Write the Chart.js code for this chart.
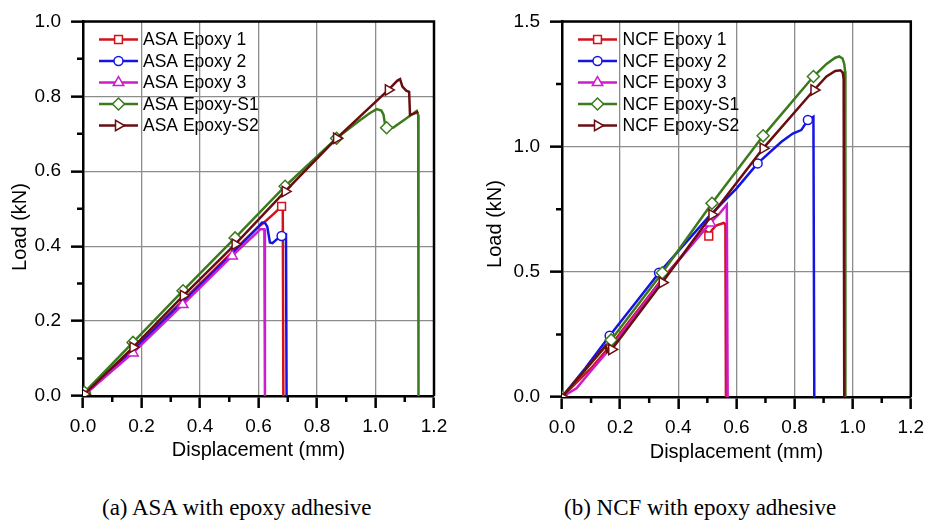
<!DOCTYPE html>
<html>
<head>
<meta charset="utf-8">
<title>Load-displacement curves, epoxy adhesive joints</title>
<script src="https://cdn.jsdelivr.net/npm/chart.js@4.4.1/dist/chart.umd.min.js"></script>
<style>
  body { margin: 0; background: #fff; width: 931px; height: 524px; position: relative; overflow: hidden; }
  .panel { position: absolute; top: 0; height: 470px; }
  .caption { position: absolute; top: 496px; font-family: "Liberation Serif", "Times New Roman", serif; font-size: 23px; line-height: 23px; color: #000; white-space: nowrap; }
</style>
</head>
<body>
<div class="panel" style="left:0;width:465px"><canvas id="asaChart" width="465" height="470"></canvas></div>
<div class="panel" style="left:465px;width:466px"><canvas id="ncfChart" width="466" height="470"></canvas></div>
<div class="caption" style="left:102px">(a) ASA with epoxy adhesive</div>
<div class="caption" style="left:564px">(b) NCF with epoxy adhesive</div>

<script>
// shared series styling (same order in both panels)
const seriesNames = ['Epoxy 1', 'Epoxy 2', 'Epoxy 3', 'Epoxy-S1', 'Epoxy-S2'];
const seriesColors = ['#d3121d', '#1414e4', '#cc1ccc', '#3b7a1d', '#690d10'];
const markerStyles = ['rect', 'circle', 'triangle', 'rectRot', 'triangle'];
const markerRotation = [0, 0, 0, 0, 90];
const markerSize = [5.5, 4.5, 6, 6, 6];

// x ticks (mm) shared by both panels
const dispTicks = [0, 0.2, 0.4, 0.6, 0.8, 1.0, 1.2];

// ASA panel: [displacement mm, load kN]
const asaEpoxy1 = [[0, 0], [0.17, 0.124], [0.34, 0.254], [0.51, 0.384], [0.6, 0.452], [0.617, 0.462], [0.65, 0.485], [0.679, 0.506], [0.683, 0.505], [0.685, 0]];
const asaEpoxy2 = [[0, 0], [0.17, 0.12], [0.34, 0.25], [0.51, 0.381], [0.6, 0.452], [0.612, 0.463], [0.622, 0.462], [0.63, 0.452], [0.639, 0.41], [0.648, 0.408], [0.662, 0.418], [0.679, 0.427], [0.694, 0.431], [0.696, 0]];
const asaEpoxy3 = [[0, 0], [0.171, 0.115], [0.341, 0.244], [0.51, 0.374], [0.6, 0.44], [0.605, 0.445], [0.62, 0.445], [0.622, 0]];
const asaEpoxyS1 = [[0.005, 0.01], [0.171, 0.143], [0.342, 0.281], [0.52, 0.422], [0.691, 0.56], [0.867, 0.688], [0.941, 0.733], [0.98, 0.755], [1.004, 0.766], [1.02, 0.762], [1.027, 0.752], [1.033, 0.724], [1.038, 0.716], [1.06, 0.716], [1.1, 0.738], [1.13, 0.755], [1.141, 0.761], [1.146, 0.75], [1.147, 0]];
const asaEpoxyS2 = [[0.005, 0.005], [0.171, 0.13], [0.343, 0.268], [0.52, 0.405], [0.691, 0.546], [0.867, 0.688], [1.044, 0.817], [1.075, 0.842], [1.084, 0.846], [1.092, 0.826], [1.105, 0.815], [1.115, 0.812], [1.118, 0.75], [1.13, 0.753], [1.146, 0.759]];
const asaMarks = [[7], [11], [1, 2, 3], [0, 1, 2, 3, 4, 5, 12], [0, 1, 2, 3, 4, 5, 6]];
const asaLoadTicks = [0, 0.2, 0.4, 0.6, 0.8, 1.0];

// NCF panel: [displacement mm, load kN]
const ncfEpoxy1 = [[0, 0], [0.1, 0.115], [0.17, 0.21], [0.34, 0.465], [0.49, 0.668], [0.498, 0.66], [0.505, 0.643], [0.515, 0.665], [0.53, 0.685], [0.556, 0.695], [0.562, 0.69], [0.564, 0]];
const ncfEpoxy2 = [[0, 0], [0.08, 0.115], [0.164, 0.245], [0.334, 0.496], [0.505, 0.72], [0.6, 0.832], [0.673, 0.933], [0.755, 1.019], [0.794, 1.052], [0.823, 1.066], [0.846, 1.106], [0.865, 1.119], [0.868, 0]];
const ncfEpoxy3 = [[0, 0], [0.05, 0.035], [0.1, 0.105], [0.17, 0.2], [0.34, 0.46], [0.51, 0.695], [0.54, 0.73], [0.567, 0.768], [0.57, 0]];
const ncfEpoxyS1 = [[0, 0], [0.169, 0.228], [0.345, 0.496], [0.516, 0.774], [0.692, 1.043], [0.865, 1.28], [0.91, 1.33], [0.94, 1.355], [0.954, 1.36], [0.965, 1.352], [0.971, 1.33], [0.974, 1.30], [0.975, 0]];
const ncfEpoxyS2 = [[0, 0], [0.15, 0.205], [0.155, 0.18], [0.171, 0.19], [0.345, 0.457], [0.516, 0.728], [0.692, 0.993], [0.867, 1.226], [0.91, 1.28], [0.94, 1.302], [0.958, 1.305], [0.966, 1.296], [0.969, 1.27], [0.971, 0]];
const ncfMarks = [[6], [2, 3, 6, 10], [5], [0, 1, 2, 3, 4, 5], [0, 3, 4, 5, 6, 7]];
const ncfLoadTicks = [0, 0.5, 1.0, 1.5];

const FONT = '"Liberation Sans", Arial, sans-serif';

function buildDatasets(prefix, series, marks) {
  return series.map((pts, i) => ({
    label: prefix + ' ' + seriesNames[i],
    data: pts.map(p => ({ x: p[0], y: p[1] })),
    showLine: true,
    borderColor: seriesColors[i],
    borderWidth: 2.5,
    tension: 0,
    pointStyle: markerStyles[i],
    pointRotation: markerRotation[i],
    pointRadius: ctx => marks[i].includes(ctx.dataIndex) ? markerSize[i] : 0,
    pointBackgroundColor: '#fff',
    pointBorderColor: seriesColors[i],
    pointBorderWidth: 1.5,
    order: series.length - i
  }));
}

// black frame on top/right plus the half-step minor ticks and the rotated y title
const framePlugin = {
  id: 'frame',
  afterDraw(chart, args, opts) {
    const { ctx, chartArea: a, scales: { x, y } } = chart;
    ctx.save();
    ctx.strokeStyle = '#000';
    ctx.lineWidth = 2.5;
    ctx.beginPath();
    ctx.moveTo(a.left, a.top);
    ctx.lineTo(a.right, a.top);
    ctx.lineTo(a.right, a.bottom);
    ctx.stroke();

    ctx.lineWidth = 2.5;
    ctx.beginPath();
    for (let i = 0; i < x.ticks.length - 1; i++) {
      const px = x.getPixelForValue((x.ticks[i].value + x.ticks[i + 1].value) / 2);
      ctx.moveTo(px, a.bottom);
      ctx.lineTo(px, a.bottom + 6);
    }
    for (let i = 0; i < y.ticks.length - 1; i++) {
      const py = y.getPixelForValue((y.ticks[i].value + y.ticks[i + 1].value) / 2);
      ctx.moveTo(a.left, py);
      ctx.lineTo(a.left - 6, py);
    }
    ctx.stroke();

    ctx.fillStyle = '#000';
    ctx.font = '20px ' + FONT;
    ctx.textAlign = 'center';
    ctx.textBaseline = 'middle';
    ctx.translate(opts.titleX, opts.titleY);
    ctx.rotate(-Math.PI / 2);
    ctx.fillText(opts.title, 0, 0);
    ctx.restore();
  }
};

// legend drawn inside the plot: line segment with the marker in the middle
const lineLegendPlugin = {
  id: 'lineLegend',
  afterDraw(chart, args, opts) {
    const { ctx } = chart;
    ctx.save();
    chart.data.datasets.forEach((ds, i) => {
      const y = opts.top + i * opts.step;
      ctx.strokeStyle = ds.borderColor;
      ctx.lineWidth = 2.5;
      ctx.beginPath();
      ctx.moveTo(opts.x1, y);
      ctx.lineTo(opts.x2, y);
      ctx.stroke();
      ctx.fillStyle = '#fff';
      ctx.lineWidth = 1.5;
      Chart.helpers.drawPoint(ctx, {
        pointStyle: ds.pointStyle,
        rotation: ds.pointRotation,
        radius: markerSize[i],
        borderWidth: 1.5
      }, (opts.x1 + opts.x2) / 2, y);
      ctx.fillStyle = '#000';
      ctx.font = opts.fontSize + 'px ' + FONT;
      ctx.textAlign = 'left';
      ctx.textBaseline = 'middle';
      ctx.fillText(ds.label, opts.textX, y + 1);
    });
    ctx.restore();
  }
};

function makeChart(id, prefix, series, marks, loadTicks, layout) {
  const yMax = loadTicks[loadTicks.length - 1];
  return new Chart(document.getElementById(id), {
    type: 'scatter',
    data: { datasets: buildDatasets(prefix, series, marks) },
    plugins: [framePlugin, lineLegendPlugin],
    options: {
      responsive: false,
      animation: false,
      events: [],
      layout: { padding: { top: 19, right: layout.padRight, left: 0, bottom: 0 } },
      plugins: {
        legend: { display: false },
        tooltip: { enabled: false },
        frame: { title: 'Load (kN)', titleX: layout.titleX, titleY: layout.titleY },
        lineLegend: layout.legend
      },
      scales: {
        x: {
          type: 'linear',
          min: dispTicks[0],
          max: dispTicks[dispTicks.length - 1],
          afterBuildTicks: s => { s.ticks = dispTicks.map(v => ({ value: v })); },
          afterFit: s => { s.height = layout.xHeight; },
          ticks: { color: '#000', font: { family: FONT, size: 19 }, padding: 7, maxRotation: 0, callback: v => v.toFixed(1) },
          grid: { color: '#8c8c8c', lineWidth: 1.3, tickColor: '#000', tickWidth: 2.5, tickLength: 12 },
          border: { color: '#000', width: 2.5 },
          title: { display: true, text: 'Displacement (mm)', color: '#000', font: { family: FONT, size: 20 }, padding: { top: 0, bottom: layout.xTitlePad } }
        },
        y: {
          type: 'linear',
          min: 0,
          max: yMax,
          afterBuildTicks: s => { s.ticks = loadTicks.map(v => ({ value: v })); },
          afterFit: s => { s.width = layout.yWidth; },
          ticks: { color: '#000', font: { family: FONT, size: 19 }, padding: 10, callback: v => v.toFixed(1) },
          grid: { color: '#8c8c8c', lineWidth: 1.3, tickColor: '#000', tickWidth: 2.5, tickLength: 12 },
          border: { color: '#000', width: 2.5 }
        }
      }
    }
  });
}

makeChart('asaChart', 'ASA', [asaEpoxy1, asaEpoxy2, asaEpoxy3, asaEpoxyS1, asaEpoxyS2], asaMarks, asaLoadTicks, {
  padRight: 31, xHeight: 74, yWidth: 83, xTitlePad: 8, titleX: 20, titleY: 227,
  legend: { x1: 99, x2: 138, textX: 143, top: 39.5, step: 21.5, fontSize: 17.5 }
});

makeChart('ncfChart', 'NCF', [ncfEpoxy1, ncfEpoxy2, ncfEpoxy3, ncfEpoxyS1, ncfEpoxyS2], ncfMarks, ncfLoadTicks, {
  padRight: 16, xHeight: 73, yWidth: 97, xTitlePad: 6, titleX: 30, titleY: 224,
  legend: { x1: 113, x2: 152, textX: 157.5, top: 39.5, step: 21.5, fontSize: 17.5 }
});
</script>
</body>
</html>
